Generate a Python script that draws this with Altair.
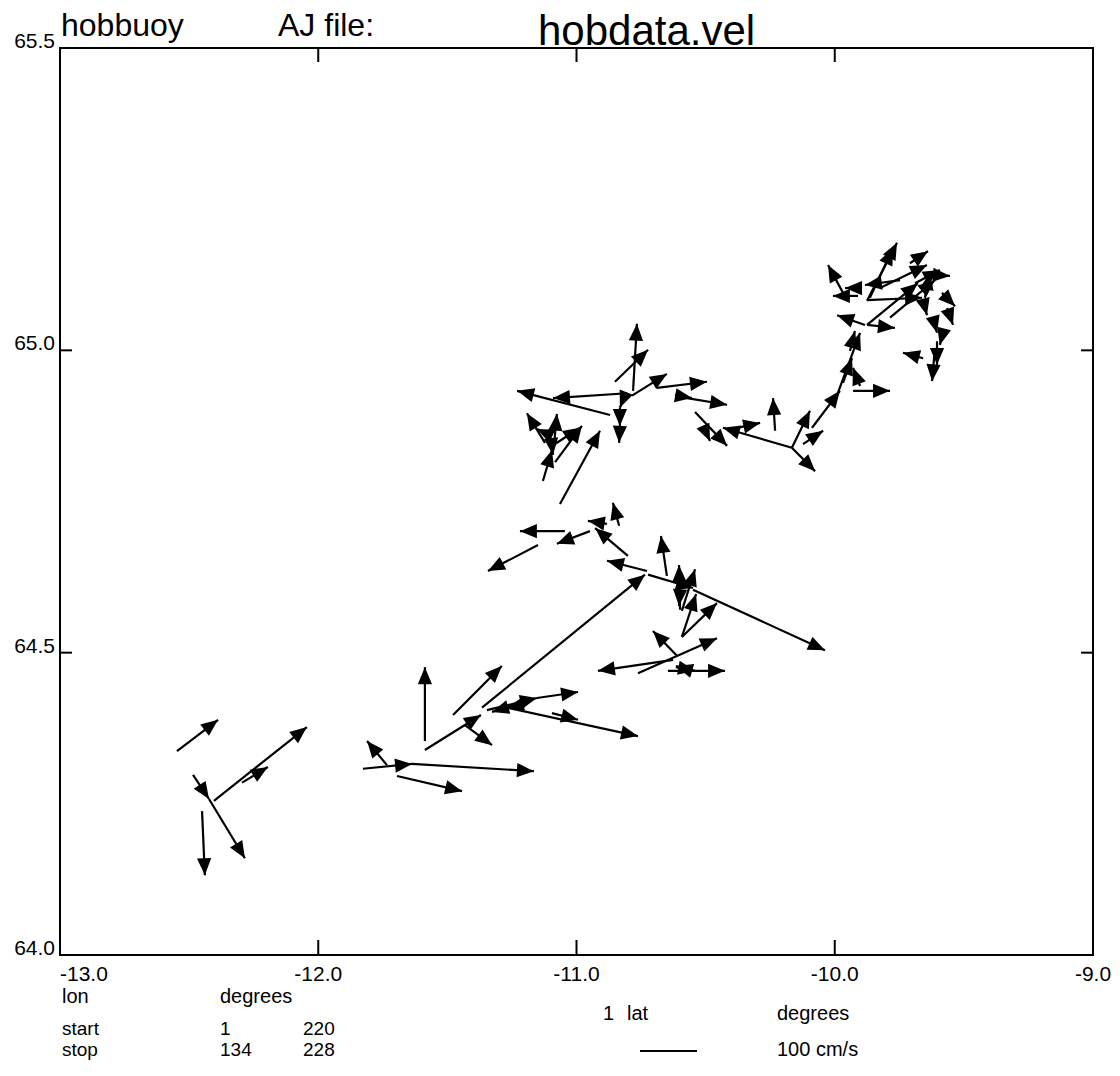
import math
import altair as alt
import pandas as pd

# ---- data (buoy velocity sticks) ----
lon_start = [-12.547, -12.485, -12.423, -12.404, -12.295, -12.450, -11.734, -11.827, -11.637, -11.695,
             -11.587, -11.587, -11.432, -11.478, -11.366, -11.347, -11.153, -11.250, -11.199, -11.269,
             -11.095, -11.064, -11.045, -10.948, -11.149, -10.882, -10.835, -10.801, -10.727, -10.650,
             -10.723, -10.549, -10.599, -10.592, -10.599, -10.592, -10.592, -10.611, -10.762, -10.626,
             -10.646, -10.615, -10.560, -10.781, -10.851, -10.785, -10.688, -10.804, -10.870, -10.812,
             -10.832, -10.832, -11.122, -11.114, -11.087, -11.091, -11.083, -11.130, -11.095, -10.619,
             -10.572, -10.541, -10.510, -10.417, -10.166, -10.231, -10.166, -10.166, -10.123, -10.088,
             -9.991, -9.929, -9.902, -9.941, -9.883, -9.875, -9.875, -9.875, -9.864, -9.875,
             -9.968, -9.910, -9.825, -9.747, -9.709, -9.620, -9.585, -9.565, -9.658, -9.612,
             -9.581, -9.612, -9.658, -9.604, -9.786, -9.689, -9.651, -9.902, -9.968]
lat_start = [64.337, 64.298, 64.258, 64.255, 64.285, 64.238, 64.314, 64.308, 64.316, 64.296,
             64.354, 64.339, 64.380, 64.397, 64.409, 64.405, 64.425, 64.412, 64.415, 64.409,
             64.400, 64.746, 64.701, 64.701, 64.678, 64.713, 64.710, 64.660, 64.635, 64.627,
             64.629, 64.604, 64.571, 64.569, 64.604, 64.526, 64.526, 64.495, 64.466, 64.488,
             64.470, 64.476, 64.471, 64.933, 64.948, 64.925, 64.938, 64.929, 64.893, 64.926,
             64.905, 64.875, 64.847, 64.862, 64.843, 64.843, 64.815, 64.784, 64.842, 64.926,
             64.921, 64.898, 64.875, 64.868, 64.839, 64.867, 64.839, 64.839, 64.845, 64.872,
             64.926, 64.933, 64.941, 64.999, 65.042, 65.042, 65.042, 65.082, 65.087, 65.083,
             65.095, 65.090, 65.103, 65.116, 65.144, 65.125, 65.095, 65.070, 65.083, 65.042,
             65.029, 65.004, 64.987, 65.015, 65.054, 65.111, 65.087, 65.103, 64.946]
lon_end = [-12.388, -12.423, -12.284, -12.044, -12.195, -12.439, -11.811, -11.637, -11.165, -11.443,
           -11.587, -11.370, -11.327, -11.289, -10.735, -11.153, -10.994, -11.327, -11.269, -10.762,
           -10.994, -10.909, -11.219, -11.076, -11.343, -10.956, -10.859, -10.928, -10.882, -10.673,
           -10.549, -10.038, -10.603, -10.541, -10.603, -10.537, -10.456, -10.704, -10.456, -10.917,
           -10.425, -10.541, -10.615, -10.766, -10.723, -10.650, -10.495, -11.091, -11.230, -10.832,
           -10.832, -10.835, -11.192, -11.153, -11.076, -10.986, -10.979, -11.095, -11.091, -10.553,
           -10.417, -10.417, -10.483, -10.289, -10.433, -10.239, -10.096, -10.076, -10.045, -9.980,
           -9.902, -9.786, -9.929, -9.922, -9.991, -9.767, -9.678, -9.759, -9.774, -9.662,
           -10.026, -10.007, -9.643, -9.883, -9.639, -9.554, -9.534, -9.542, -9.643, -9.604,
           -9.593, -9.623, -9.736, -9.604, -9.612, -9.593, -9.631, -9.960, -9.933]
lat_end = [64.389, 64.258, 64.160, 64.377, 64.311, 64.132, 64.354, 64.316, 64.304, 64.271,
           64.476, 64.397, 64.347, 64.478, 64.629, 64.425, 64.435, 64.402, 64.409, 64.362,
           64.389, 64.867, 64.701, 64.680, 64.635, 64.718, 64.748, 64.706, 64.652, 64.693,
           64.607, 64.504, 64.645, 64.638, 64.577, 64.597, 64.582, 64.536, 64.524, 64.470,
           64.470, 64.470, 64.478, 65.044, 65.001, 64.961, 64.948, 64.921, 64.933, 64.905,
           64.875, 64.847, 64.896, 64.870, 64.895, 64.872, 64.875, 64.835, 64.827, 64.921,
           64.910, 64.842, 64.850, 64.880, 64.872, 64.921, 64.900, 64.800, 64.867, 64.933,
           65.029, 64.933, 64.971, 65.032, 65.058, 65.037, 65.111, 65.178, 65.169, 65.087,
           65.141, 65.090, 65.141, 65.108, 65.164, 65.123, 65.073, 65.042, 65.058, 65.029,
           65.009, 64.949, 64.996, 64.976, 65.116, 65.133, 65.128, 65.103, 64.987]

x_label_values = [-13.0, -12.0, -11.0, -10.0, -9.0]
x_label_texts = ["-13.0", "-12.0", "-11.0", "-10.0", "-9.0"]
y_label_values = [64.0, 64.5, 65.0, 65.5]
y_label_texts = ["64.0", "64.5", "65.0", "65.5"]
inner_x_ticks = [-12.0, -11.0, -10.0]
inner_y_ticks = [64.5, 65.0]

# ---- layout ----
W, H = 1033, 907
FONT = "Liberation Sans"
LON_DOMAIN = [-13.0, -9.0]
LAT_DOMAIN = [64.0, 65.5]
x_scale = alt.Scale(domain=LON_DOMAIN, nice=False, zero=False)
y_scale = alt.Scale(domain=LAT_DOMAIN, nice=False, zero=False)

df = pd.DataFrame({"lon": lon_start, "lat": lat_start, "lon2": lon_end, "lat2": lat_end})
px_lon = W / (LON_DOMAIN[1] - LON_DOMAIN[0])
px_lat = H / (LAT_DOMAIN[1] - LAT_DOMAIN[0])
df["angle"] = [
    (math.degrees(math.atan2((b - a) * px_lon, (d - c) * px_lat)) + 360.0) % 360.0
    for a, b, c, d in zip(df["lon"], df["lon2"], df["lat"], df["lat2"])
]

base = alt.Chart(df)
shafts = base.mark_rule(color="black", strokeWidth=2.2).encode(
    x=alt.X("lon:Q", scale=x_scale, axis=None),
    y=alt.Y("lat:Q", scale=y_scale, axis=None),
    x2="lon2:Q",
    y2="lat2:Q",
)
heads = base.mark_point(shape="M0,0L-0.42,1L0.42,1Z", filled=True, color="black",
                        opacity=1, size=1150, strokeWidth=0).encode(
    x=alt.X("lon2:Q", scale=x_scale, axis=None),
    y=alt.Y("lat2:Q", scale=y_scale, axis=None),
    angle=alt.Angle("angle:Q", scale=None),
)

# inward tick marks
xt = alt.Chart(pd.DataFrame({"v": inner_x_ticks}))
yt = alt.Chart(pd.DataFrame({"v": inner_y_ticks}))
tick_top = xt.mark_rule(color="black", strokeWidth=2).encode(
    x=alt.X("v:Q", scale=x_scale, axis=None), y=alt.value(0), y2=alt.value(14))
tick_bot = xt.mark_rule(color="black", strokeWidth=2).encode(
    x=alt.X("v:Q", scale=x_scale, axis=None), y=alt.value(H - 15), y2=alt.value(H))
tick_left = yt.mark_rule(color="black", strokeWidth=2).encode(
    y=alt.Y("v:Q", scale=y_scale, axis=None), x=alt.value(0), x2=alt.value(12))
tick_right = yt.mark_rule(color="black", strokeWidth=2).encode(
    y=alt.Y("v:Q", scale=y_scale, axis=None), x=alt.value(W - 12), x2=alt.value(W))

# tick labels
xl = pd.DataFrame({"v": x_label_values, "t": x_label_texts})
xlab_first = alt.Chart(xl.iloc[:1]).mark_text(
    align="left", baseline="top", font=FONT, fontSize=21, color="black").encode(
    x=alt.X("v:Q", scale=x_scale, axis=None), y=alt.value(H + 9), text="t:N")
xlab_rest = alt.Chart(xl.iloc[1:]).mark_text(
    align="center", baseline="top", font=FONT, fontSize=21, color="black").encode(
    x=alt.X("v:Q", scale=x_scale, axis=None), y=alt.value(H + 9), text="t:N")
yl = pd.DataFrame({"v": y_label_values, "t": y_label_texts})
ylab = alt.Chart(yl).mark_text(
    align="right", baseline="alphabetic", font=FONT, fontSize=21, color="black").encode(
    y=alt.Y("v:Q", scale=y_scale, axis=None), x=alt.value(-5), text="t:N")


def label(txt, x, y, size=19):
    return alt.Chart(pd.DataFrame({"t": [txt]})).mark_text(
        align="left", baseline="alphabetic", font=FONT, fontSize=size, color="black"
    ).encode(x=alt.value(x), y=alt.value(y), text="t:N")


texts = [
    label("hobbuoy", 1, -12, 32),
    label("AJ file:", 218, -12, 32),
    label("hobdata.vel", 478, -3, 42),
    label("lon", 2, 955, 20),
    label("degrees", 160, 955, 20),
    label("1", 543, 972, 20),
    label("lat", 567, 972, 20),
    label("degrees", 717, 972, 20),
    label("start", 2, 987),
    label("1", 160, 987),
    label("220", 243, 987),
    label("stop", 2, 1008),
    label("134", 160, 1008),
    label("228", 243, 1008),
    label("100 cm/s", 717, 1008, 20),
]

scale_bar = alt.Chart(pd.DataFrame({"k": [0]})).mark_rule(color="black", strokeWidth=2).encode(
    x=alt.value(580), x2=alt.value(637), y=alt.value(1003))

chart = alt.layer(
    shafts, heads, tick_top, tick_bot, tick_left, tick_right,
    xlab_first, xlab_rest, ylab, scale_bar, *texts
).properties(
    width=W,
    height=H,
    autosize=alt.AutoSizeParams(type="none"),
    padding={"left": 60, "top": 48, "right": 27, "bottom": 121},
    background="white",
).configure_view(stroke="black", strokeWidth=2)

chart.save("out.html", embed_options={"renderer": "svg", "actions": False})
